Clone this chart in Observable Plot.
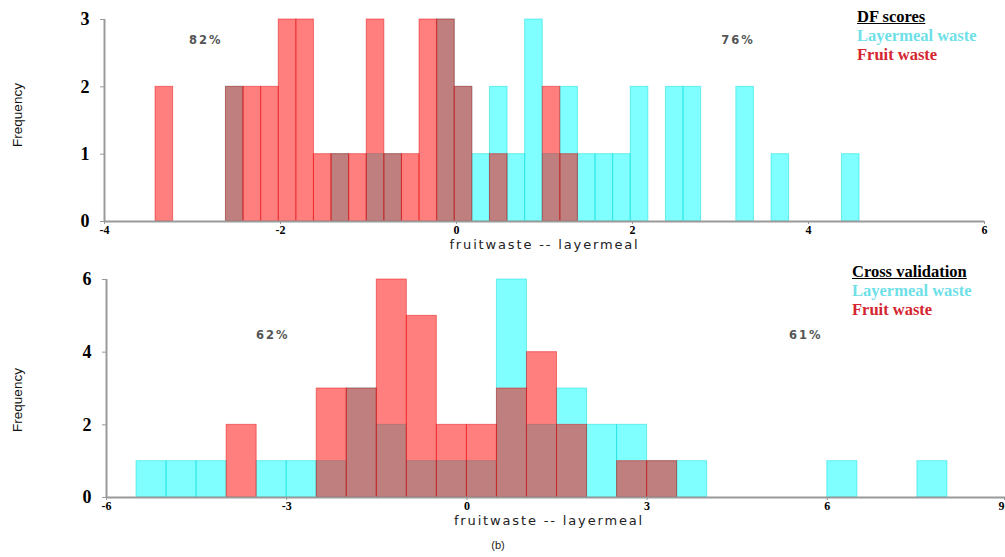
<!DOCTYPE html>
<html>
<head>
<meta charset="utf-8">
<script src="https://cdn.jsdelivr.net/npm/d3@7"></script>
<script src="https://cdn.jsdelivr.net/npm/@observablehq/plot@0.6"></script>
<style>
  html, body { margin: 0; padding: 0; background: #fff; }
  #wrap { position: relative; width: 1005px; height: 557px; overflow: hidden; background: #fff; }
  .chart { position: absolute; left: 0; }
  .chart svg { overflow: visible; background: transparent; }
  .legend { position: absolute; font-family: "Liberation Serif", "Times New Roman", serif; font-weight: bold; font-size: 16.5px; line-height: 19px; white-space: nowrap; }
  .legend .head { color: #000; text-decoration: underline; }
  .legend .lay { color: #6fdfe8; }
  .legend .fru { color: #d42530; }
  .ylab { position: absolute; font-family: "Liberation Sans", Arial, sans-serif; font-size: 13.5px; color: #111; white-space: nowrap; transform: translate(-50%, -50%) rotate(-90deg); }
  .caption { position: absolute; font-family: "Liberation Sans", Arial, sans-serif; font-size: 11px; color: #222; transform: translate(-50%, -50%); }
</style>
</head>
<body>
<div id="wrap"></div>
<script>
// ---------- data ----------
const seriesNames = ["Layermeal waste", "Fruit waste"];
const xTitle = "fruitwaste -- layermeal";
const yTitle = "Frequency";
const caption = "(b)";

// Panel 1: DF scores (bin width 0.2, bin start values)
const topTitle = "DF scores";
const topBinWidth = 0.2;
const topFruitStart = [-3.42, -2.62, -2.42, -2.22, -2.02, -1.82, -1.62, -1.42, -1.22, -1.02, -0.82, -0.62, -0.42, -0.22, -0.02, 0.38, 0.98, 1.18];
const topFruitCount = [2, 2, 2, 2, 3, 3, 1, 1, 1, 3, 1, 1, 3, 3, 2, 1, 2, 1];
const topLayerStart = [-2.62, -1.42, -1.02, -0.82, -0.22, -0.02, 0.18, 0.38, 0.58, 0.78, 0.98, 1.18, 1.38, 1.58, 1.78, 1.98, 2.38, 2.58, 3.18, 3.58, 4.38];
const topLayerCount = [2, 1, 1, 1, 3, 2, 1, 2, 1, 3, 1, 2, 1, 1, 1, 2, 2, 2, 2, 1, 1];
const topXTicks = [-4, -2, 0, 2, 4, 6];
const topYTicks = [0, 1, 2, 3];
const topPctLabel = ["82%", "76%"];
const topPctX = [-2.85, 3.2];
const topPctY = [2.69, 2.69];

// Panel 2: Cross validation (bin width 0.5, bin start values)
const botTitle = "Cross validation";
const botBinWidth = 0.5;
const botFruitStart = [-4, -2.5, -2, -1.5, -1, -0.5, 0, 0.5, 1, 1.5, 2.5, 3];
const botFruitCount = [2, 3, 3, 6, 5, 2, 2, 3, 4, 2, 1, 1];
const botLayerStart = [-5.5, -5, -4.5, -3.5, -3, -2.5, -2, -1.5, -1, -0.5, 0, 0.5, 1, 1.5, 2, 2.5, 3, 3.5, 6, 7.5];
const botLayerCount = [1, 1, 1, 1, 1, 1, 3, 2, 1, 1, 1, 6, 2, 3, 2, 2, 1, 1, 1, 1];
const botXTicks = [-6, -3, 0, 3, 6, 9];
const botYTicks = [0, 2, 4, 6];
const botPctLabel = ["62%", "61%"];
const botPctX = [-3.23, 5.64];
const botPctY = [4.46, 4.46];

// ---------- helpers ----------
const bins = (starts, counts, w) => starts.map((s, i) => ({x1: s, x2: s + w, count: counts[i]}));
const pcts = (labels, xs, ys) => labels.map((l, i) => ({label: l, x: xs[i], y: ys[i]}));
const serif = "Liberation Serif, Times New Roman, serif";

function panel(o) {
  const layer = bins(o.layerStart, o.layerCount, o.binWidth);
  const fruit = bins(o.fruitStart, o.fruitCount, o.binWidth);
  const lastTick = o.xTicks[o.xTicks.length - 1];
  const innerTicks = o.lastTickEnd ? o.xTicks.slice(0, -1) : o.xTicks;
  const svg = Plot.plot({
    width: 1005,
    height: o.height,
    marginLeft: o.marginLeft,
    marginRight: o.marginRight,
    marginTop: o.marginTop,
    marginBottom: o.marginBottom,
    style: {background: "transparent", overflow: "visible"},
    x: {domain: o.xDomain, range: o.xRange},
    y: {domain: o.yDomain, range: o.yRange},
    marks: [
      Plot.rect(layer, {x1: "x1", x2: "x2", y1: 0, y2: "count", fill: "#00ffff", fillOpacity: 0.5, stroke: "#00d8d8", strokeOpacity: 0.45, strokeWidth: 1}),
      Plot.rect(fruit, {x1: "x1", x2: "x2", y1: 0, y2: "count", fill: "#ff0000", fillOpacity: 0.5, stroke: "#e00000", strokeOpacity: 0.45, strokeWidth: 1}),
      Plot.ruleY([0], {x1: o.xDomain[0], x2: o.xDomain[1], stroke: "#9a9a9a", strokeWidth: 2}),
      Plot.ruleX([o.xDomain[0]], {y1: 0, y2: o.yDomain[1], stroke: "#9a9a9a", strokeWidth: 2}),
      Plot.axisY({ticks: o.yTicks, tickFormat: d => String(d), tickSize: 4, tickPadding: 11, stroke: "#999", fill: "#000",
        fontSize: 18, fontWeight: "bold", fontFamily: serif, label: null}),
      Plot.axisX({ticks: innerTicks, tickFormat: d => String(d), tickSize: 3, tickPadding: 1, stroke: "#999", fill: "#000",
        fontSize: 12, fontWeight: "bold", fontFamily: serif, label: null}),
      o.lastTickEnd ? Plot.axisX({ticks: [lastTick], tickFormat: d => String(d), tickSize: 3, tickPadding: 1, stroke: "#999", fill: "#000",
        fontSize: 12, fontWeight: "bold", fontFamily: serif, label: null, textAnchor: "end", dx: -3}) : null,
      Plot.text(pcts(o.pctLabel, o.pctX, o.pctY), {x: "x", y: "y", text: "label", fontFamily: "DejaVu Sans, sans-serif",
        fontSize: 11.5, fontWeight: "bold", fill: "#555"}),
      Plot.text([xTitle], {frameAnchor: "bottom", dy: o.xTitleDy, dx: o.xTitleDx, text: d => d, fontFamily: "DejaVu Sans, sans-serif",
        fontSize: 13, fill: "#222"})
    ]
  });
  // stretch the wide-set labels like the reference
  d3.select(svg).selectAll("text").each(function () {
    const t = this.textContent;
    if (t === xTitle) this.style.letterSpacing = "1.85px";
    if (o.pctLabel.includes(t)) this.style.letterSpacing = "2px";
  });
  return svg;
}

const wrap = document.getElementById("wrap");

function addChart(svg, top) {
  const d = document.createElement("div");
  d.className = "chart";
  d.style.top = top + "px";
  d.appendChild(svg);
  wrap.appendChild(d);
}

addChart(panel({
  height: 256, marginLeft: 104, marginRight: 21, marginTop: 19, marginBottom: 35,
  xDomain: [-4, 6], xRange: [104, 984], yDomain: [0, 3], yRange: [221, 19],
  xTicks: topXTicks, yTicks: topYTicks, binWidth: topBinWidth,
  fruitStart: topFruitStart, fruitCount: topFruitCount, layerStart: topLayerStart, layerCount: topLayerCount,
  pctLabel: topPctLabel, pctX: topPctX, pctY: topPctY, xTitleDy: 27, xTitleDx: 0, lastTickEnd: false
}), 0);

addChart(panel({
  height: 287, marginLeft: 106, marginRight: -2, marginTop: 29, marginBottom: 40,
  xDomain: [-6, 9], xRange: [106, 1007], yDomain: [0, 6], yRange: [247, 29],
  xTicks: botXTicks, yTicks: botYTicks, binWidth: botBinWidth,
  fruitStart: botFruitStart, fruitCount: botFruitCount, layerStart: botLayerStart, layerCount: botLayerCount,
  pctLabel: botPctLabel, pctX: botPctX, pctY: botPctY, xTitleDy: 27, xTitleDx: -8, lastTickEnd: true
}), 250);

function addLegend(title, left, top) {
  const d = document.createElement("div");
  d.className = "legend";
  d.style.left = left + "px";
  d.style.top = top + "px";
  d.innerHTML = `<div class="head">${title}</div><div class="lay">${seriesNames[0]}</div><div class="fru">${seriesNames[1]}</div>`;
  wrap.appendChild(d);
}
addLegend(topTitle, 857, 7);
addLegend(botTitle, 852, 262);

function addYLabel(cx, cy) {
  const d = document.createElement("div");
  d.className = "ylab";
  d.style.left = cx + "px";
  d.style.top = cy + "px";
  d.textContent = yTitle;
  wrap.appendChild(d);
}
addYLabel(17, 115);
addYLabel(17, 400);

const cap = document.createElement("div");
cap.className = "caption";
cap.style.left = "498px";
cap.style.top = "545px";
cap.textContent = caption;
wrap.appendChild(cap);
</script>
</body>
</html>
